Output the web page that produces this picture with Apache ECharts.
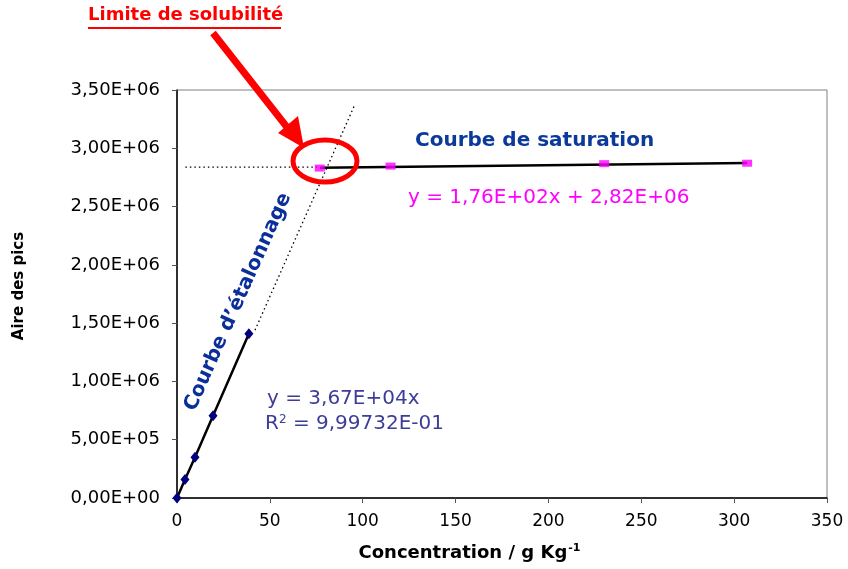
<!DOCTYPE html>
<html>
<head>
<meta charset="utf-8">
<script src="https://cdn.jsdelivr.net/npm/echarts@6/dist/echarts.min.js"></script>
<style>
  html, body { margin: 0; padding: 0; background: #fff; }
  #chart { width: 848px; height: 569px; }
</style>
</head>
<body>
<div id="chart"></div>
<script>
// calibration points (étalonnage)
const calibX = [0, 4.3, 9.7, 19.4, 38.7]
const calibY = [0, 158000, 350000, 705000, 1410000]
// saturation points
const satX = [76.9, 115, 230, 307]
const satY = [2830000, 2847000, 2868000, 2872000]
// trend line of saturation (y = 1,76E+02x + 2,82E+06)
const satTrendX = [76.9, 307]
const satTrendY = [2833500, 2874000]
// dotted guides
const calibExtX = [42, 95.9]
const calibExtY = [1440000, 3380000]
const limitX = [4.5, 76.9]
const limitY = [2838000, 2838000]

const xTicks = { min: 0, max: 350, interval: 50 }
const yTicks = { min: 0, max: 3500000, interval: 500000 }

const pairs = (xs, ys) => xs.map((x, i) => [x, ys[i]])

function fmtSci(v) {
  const s = Number(v).toExponential(2)
  const m = s.match(/^(-?[\d.]+)e([+-])(\d+)$/)
  return m[1].replace('.', ',') + 'E' + m[2] + m[3].padStart(2, '0')
}

const chart = echarts.init(document.getElementById('chart'))
const font = 'DejaVu Sans, Arial, sans-serif'

chart.setOption({
  backgroundColor: '#fff',
  animation: false,
  grid: { left: 177, right: 21, top: 90, bottom: 71, show: true, borderColor: '#808080', borderWidth: 1 },
  xAxis: {
    type: 'value',
    ...xTicks,
    name: '{b|Concentration / g Kg}{s|-1}',
    nameLocation: 'middle',
    nameGap: 45,
    nameTextStyle: {
      padding: [0, 65, 0, 0],
      rich: {
        b: { fontFamily: font, fontWeight: 'bold', fontSize: 18, color: '#000' },
        s: { fontFamily: font, fontWeight: 'bold', fontSize: 11, color: '#000', verticalAlign: 'top', padding: [0, 0, 10, 1] }
      }
    },
    axisLine: { onZero: false, lineStyle: { color: '#000', width: 1.5 } },
    axisTick: { show: true, length: 5, lineStyle: { color: '#555' } },
    axisLabel: { fontFamily: font, fontSize: 17, color: '#000', margin: 15 },
    splitLine: { show: false }
  },
  yAxis: {
    type: 'value',
    ...yTicks,
    name: 'Aire des pics',
    nameLocation: 'middle',
    nameGap: 150,
    nameTextStyle: { fontFamily: font, fontWeight: 'bold', fontSize: 15, color: '#000', padding: [0, 0, 0, 16] },
    axisLine: { show: true, onZero: false, lineStyle: { color: '#000', width: 1.5 } },
    axisTick: { show: true, length: 5, lineStyle: { color: '#555' } },
    axisLabel: { fontFamily: font, fontSize: 18, color: '#000', margin: 17, formatter: fmtSci },
    splitLine: { show: false }
  },
  series: [
    {
      type: 'line',
      data: pairs(calibExtX, calibExtY),
      symbol: 'none',
      lineStyle: { color: '#000', width: 1.3, type: [1.5, 3] },
      z: 1
    },
    {
      type: 'line',
      data: pairs(limitX, limitY),
      symbol: 'none',
      lineStyle: { color: '#000', width: 1.3, type: [1.5, 3] },
      z: 1
    },
    {
      type: 'line',
      data: pairs(calibX, calibY),
      symbol: 'diamond',
      symbolSize: [9, 11],
      itemStyle: { color: '#000080' },
      lineStyle: { color: '#000', width: 2.5 },
      z: 3
    },
    {
      type: 'line',
      data: pairs(satTrendX, satTrendY),
      symbol: 'none',
      lineStyle: { color: '#000', width: 2.5 },
      z: 2
    },
    {
      type: 'scatter',
      data: pairs(satX, satY),
      symbol: 'rect',
      symbolSize: [10, 7],
      itemStyle: { color: '#ff00ff' },
      z: 4
    }
  ],
  graphic: [
    {
      type: 'text', left: 88, top: 6,
      style: { text: 'Limite de solubilité', fontFamily: font, fontWeight: 'bold', fontSize: 18, fill: '#ff0000' }
    },
    { type: 'line', shape: { x1: 88, y1: 28, x2: 281, y2: 28 }, style: { stroke: '#ff0000', lineWidth: 2 } },
    { type: 'line', shape: { x1: 213, y1: 33, x2: 290, y2: 131 }, style: { stroke: '#ff0000', lineWidth: 7 } },
    { type: 'polygon', shape: { points: [[304, 148], [278, 133], [298, 116]] }, style: { fill: '#ff0000' } },
    {
      type: 'ellipse', shape: { cx: 325, cy: 161, rx: 32, ry: 21 },
      style: { fill: 'none', stroke: '#ff0000', lineWidth: 5 }, z: 10
    },
    {
      type: 'text', left: 415, top: 131,
      style: { text: 'Courbe de saturation', fontFamily: font, fontWeight: 'bold', fontSize: 20, fill: '#0b3a9a' }
    },
    {
      type: 'text', left: 408, top: 188,
      style: { text: 'y = 1,76E+02x + 2,82E+06', fontFamily: font, fontSize: 20, fill: '#ff00ff' }
    },
    {
      type: 'text', x: 238, y: 302, rotation: 66 * Math.PI / 180,
      style: {
        text: 'Courbe d’étalonnage', fontFamily: font, fontWeight: 'bold', fontSize: 20,
        fill: '#0b2f9a', align: 'center', verticalAlign: 'middle'
      }
    },
    {
      type: 'text', left: 267, top: 389,
      style: { text: 'y = 3,67E+04x', fontFamily: font, fontSize: 20, fill: '#3d3d99' }
    },
    {
      type: 'text', left: 265, top: 414,
      style: {
        text: '{a|R}{s|2}{a| = 9,99732E-01}',
        rich: {
          a: { fontFamily: font, fontSize: 20, fill: '#3d3d99' },
          s: { fontFamily: font, fontSize: 12, fill: '#3d3d99', verticalAlign: 'top', padding: [0, 0, 8, 0] }
        }
      }
    }
  ]
})
</script>
</body>
</html>
